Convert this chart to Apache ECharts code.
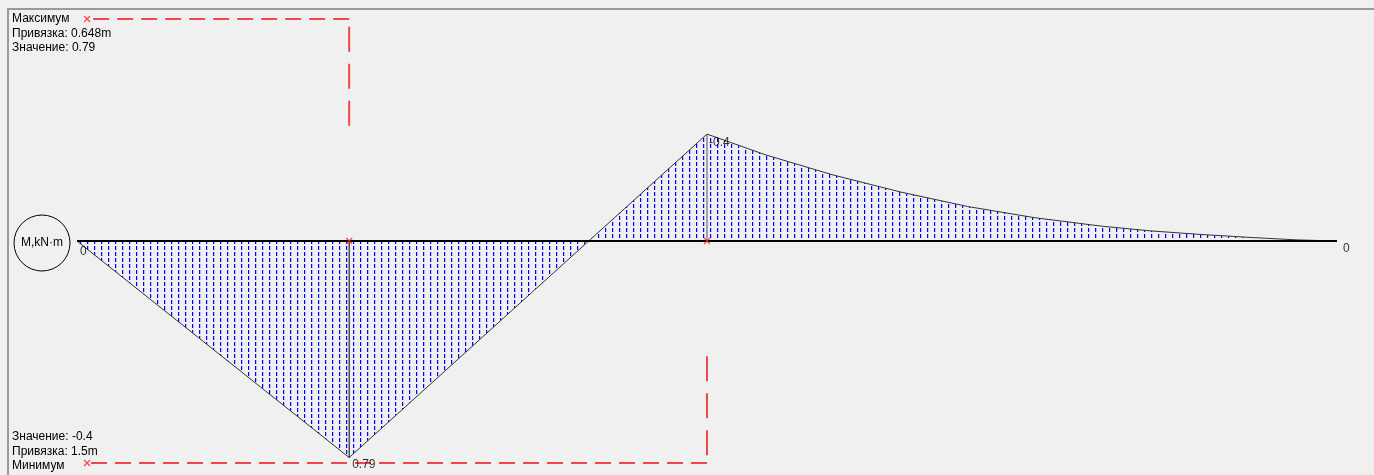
<!DOCTYPE html>
<html><head><meta charset="utf-8">
<script src="https://cdn.jsdelivr.net/npm/echarts@6.0.0/dist/echarts.min.js"></script>
<style>html,body{margin:0;padding:0;background:#f0f0f0}#c{width:1374px;height:475px}</style>
</head><body><div id="c"></div>
<script>
// Beam positions (m) and bending moment values (kN·m), positive drawn downward
const positions = [0, 0.648, 1.5, 1.64, 1.8, 1.96, 2.12, 2.28, 2.44, 2.555, 2.674, 2.793, 2.905, 3.0];
const moments   = [0, 0.79, -0.39, -0.314, -0.241, -0.179, -0.126, -0.085, -0.054, -0.037, -0.024, -0.013, -0.004, 0];
const endLabels = ['0', '0'];
const extremeNames = ['Максимум', 'Минимум'];
const extremeX = [0.648, 1.5];
const extremeValues = [0.79, -0.39];
const extremeText = ['0.79', '-0.4'];
const unitLabel = 'M,kN·m';

// annotation layout (data units)
const annotStartX = 0.024, annotY = 0.81, annotStubY = 0.42;
const FONT = 'Liberation Sans, Arial, sans-serif';

const hatch = document.createElement('canvas');
hatch.width = 7; hatch.height = 6;
const hctx = hatch.getContext('2d');
hctx.fillStyle = '#0000ff';
hctx.fillRect(3, 0, 1, 4);
hctx.fillStyle = 'rgba(90,90,255,0.35)';
hctx.fillRect(4, 0, 1, 4);

const chart = echarts.init(document.getElementById('c'), null, {renderer: 'canvas'});
const last = positions.length - 1;
const curve = positions.map((x, i) => [x, moments[i]]);
const side = v => (v > 0 ? -1 : 1);

const series = [
  { type: 'line', data: curve, symbol: 'none', z: 2, clip: false,
    lineStyle: {color: '#333', width: 1},
    areaStyle: {color: {image: hatch, repeat: 'repeat'}, opacity: 1} },
  { type: 'line', data: [[positions[0], 0], [positions[last], 0]], symbol: 'none', z: 5,
    lineStyle: {color: '#000', width: 2} }
];
extremeX.forEach((x, i) => {
  series.push({ type: 'line', data: [[x, 0], [x, extremeValues[i]]], symbol: 'none', z: 4,
    lineStyle: {color: i === 0 ? '#000' : '#555', width: 1} });
  const s = side(extremeValues[i]);
  series.push({ type: 'line', data: [[x, s * annotY], [annotStartX, s * annotY]], symbol: 'none', z: 3, clip: false,
    lineStyle: {color: '#f04848', width: 2, type: [16, 8]} });
  series.push({ type: 'line', data: [[x, s * annotStubY], [x, s * annotY]], symbol: 'none', z: 3, clip: false,
    lineStyle: {color: '#f04848', width: 2, type: [25, 12]} });
});
const crossSym = 'path://M0,0L8,8M8,0L0,8';
series.push({ type: 'scatter', z: 6, symbol: crossSym, symbolSize: 6, clip: false,
  itemStyle: {color: 'none', borderColor: '#ff2020', borderWidth: 1.2},
  data: extremeX.map(x => [x, 0]).concat(extremeValues.map(v => [annotStartX, side(v) * annotY])) });

const labelData = [
  {value: [positions[0], 0], label: {formatter: endLabels[0], position: [3, 11]}},
  {value: [positions[last], 0], label: {formatter: endLabels[1], position: [6, 8]}},
  {value: [extremeX[0], extremeValues[0]], label: {formatter: extremeText[0], position: [3, 7]}},
  {value: [extremeX[1], extremeValues[1]], label: {formatter: extremeText[1], position: [2, 9]}}
];
series.push({ type: 'scatter', z: 7, symbolSize: 0, clip: false, data: labelData,
  itemStyle: {color: 'transparent'},
  label: {show: true, color: '#000', fontSize: 12, fontFamily: FONT, align: 'left', verticalAlign: 'middle'} });

const txt = (x, y, t) => ({type: 'text', x, y, style: {text: t, fill: '#000', font: '12px ' + FONT, textVerticalAlign: 'middle'}});

chart.setOption({
  backgroundColor: '#f0f0f0',
  animation: false,
  grid: {left: 77, width: 1260, top: 8, height: 466},
  xAxis: {type: 'value', min: 0, max: 3, show: false},
  yAxis: {type: 'value', min: -0.85, max: 0.85, inverse: true, show: false},
  series,
  graphic: [
    {type: 'line', shape: {x1: 7, y1: 9, x2: 1374, y2: 9}, style: {stroke: '#9a9a9a', lineWidth: 2}},
    {type: 'line', shape: {x1: 8, y1: 9, x2: 8, y2: 475}, style: {stroke: '#9a9a9a', lineWidth: 2}},
    {type: 'circle', shape: {cx: 42, cy: 243, r: 28}, style: {stroke: '#000', fill: 'none', lineWidth: 1}},
    {type: 'text', x: 42, y: 243, style: {text: unitLabel, fill: '#000', font: '12px ' + FONT, textAlign: 'center', textVerticalAlign: 'middle'}},
    txt(12, 19, extremeNames[0]),
    txt(12, 34, 'Привязка: ' + extremeX[0] + 'm'),
    txt(12, 48, 'Значение: ' + extremeText[0]),
    txt(12, 437, 'Значение: ' + extremeText[1]),
    txt(12, 452, 'Привязка: ' + extremeX[1] + 'm'),
    txt(12, 466, extremeNames[1])
  ]
});
</script></body></html>
